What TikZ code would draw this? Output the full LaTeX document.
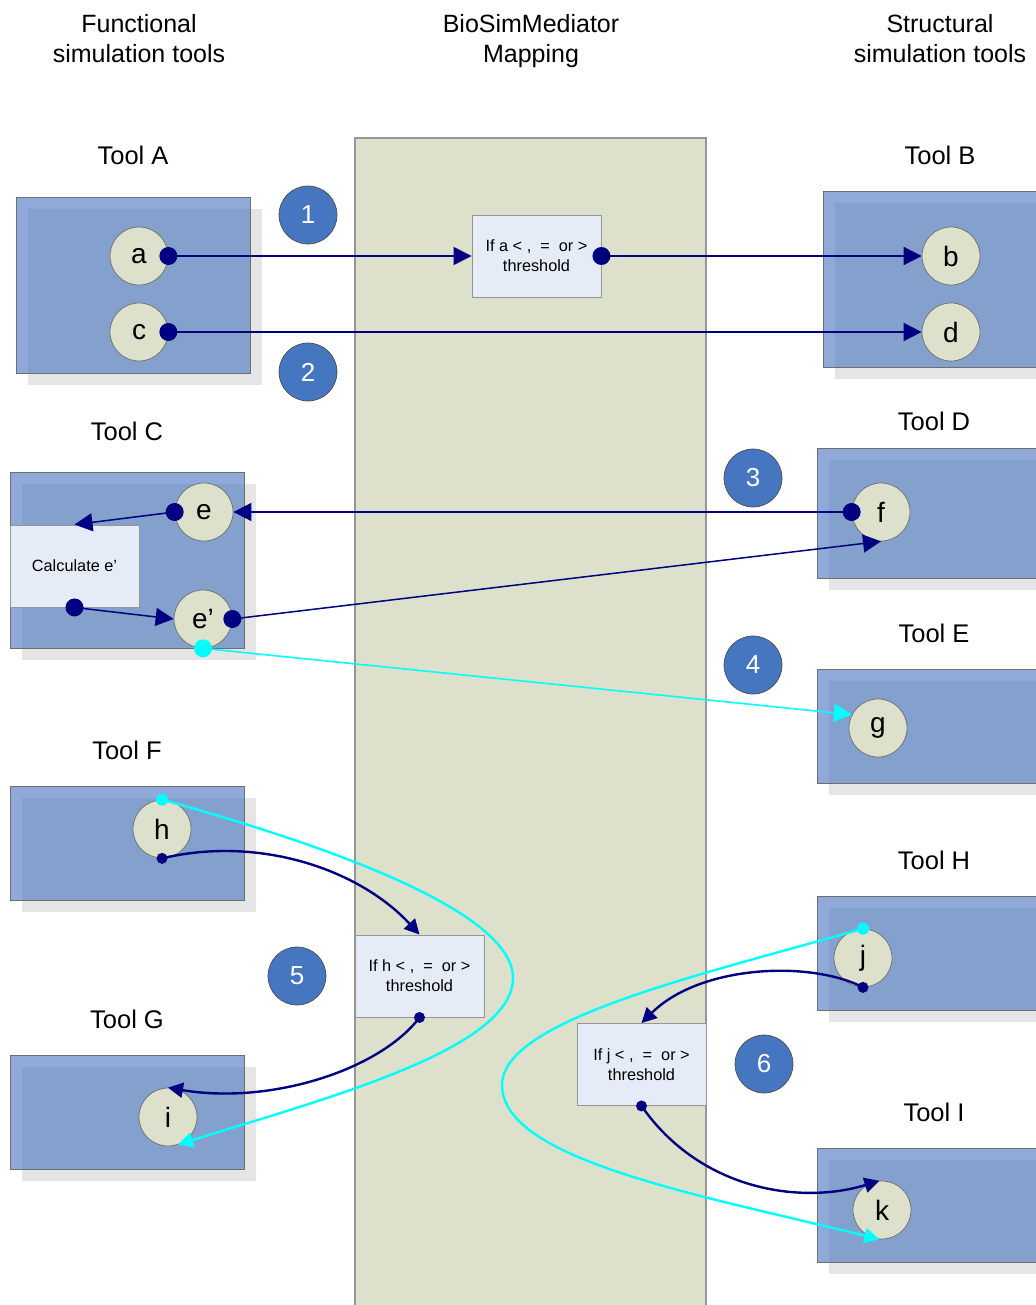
\documentclass[tikz,border=0pt]{standalone}
\usepackage{fontspec}
\setmainfont{Liberation Sans}
\usetikzlibrary{arrows.meta}

\definecolor{mapfill}{RGB}{221,225,203}
\definecolor{mapframe}{RGB}{150,150,150}
\definecolor{toolblue}{RGB}{143,170,216}
\definecolor{tooldark}{RGB}{132,160,204}
\definecolor{shadowgray}{RGB}{229,229,229}
\definecolor{frameg}{RGB}{110,110,110}
\definecolor{varfill}{RGB}{221,224,203}
\definecolor{condfill}{RGB}{230,236,247}
\definecolor{badgeblue}{RGB}{70,118,192}
\definecolor{navyc}{RGB}{0,0,128}
\definecolor{cyanc}{RGB}{0,255,255}

% tool panel: x, y, width, height (with drop shadow and inner shading)
\newcommand\toolpanel[4]{%
  \fill[shadowgray] ({#1+12},{#2+12}) rectangle ({#1+#3+12},{#2+#4+12});
  \fill[toolblue] (#1,#2) rectangle ({#1+#3},{#2+#4});
  \fill[tooldark] ({#1+12},{#2+12}) rectangle ({#1+#3},{#2+#4});
  \draw[frameg, line width=0.9pt] (#1,#2) rectangle ({#1+#3},{#2+#4});
}

\tikzset{
  hlabel/.style={align=center, font=\fontsize{25}{30}\selectfont, inner sep=0pt},
  tlabel/.style={font=\fontsize{25.5}{29}\selectfont, inner sep=0pt},
  var/.style={circle, minimum size=58pt, inner sep=0pt, fill=varfill,
    draw=frameg, line width=0.7pt, font=\fontsize{28}{30}\selectfont},
  badge/.style={circle, minimum size=58pt, inner sep=0pt, fill=badgeblue,
    draw=black!70, line width=0.7pt, text=white, font=\fontsize{26}{28}\selectfont},
  cond/.style={rectangle, minimum width=129pt, minimum height=82pt, inner sep=0pt,
    fill=condfill, draw=mapframe, line width=0.9pt, align=center,
    font=\fontsize{16.3}{20}\selectfont},
  bigdot/.style={circle, fill=navyc, minimum size=18pt, inner sep=0pt},
  smalldot/.style={circle, fill=navyc, minimum size=11pt, inner sep=0pt},
  bigcdot/.style={circle, fill=cyanc, minimum size=18pt, inner sep=0pt},
  smallcdot/.style={circle, fill=cyanc, minimum size=12pt, inner sep=0pt},
  navline/.style={draw=navyc, line width=1.5pt, -{Triangle[length=18pt,width=18pt]}},
  cyanline/.style={draw=cyanc, line width=1.6pt, -{Triangle[length=18pt,width=18pt]}},
  navcurve/.style={draw=navyc, line width=2.4pt, -{Triangle[length=15pt,width=15pt]}},
  cyancurve/.style={draw=cyanc, line width=2.4pt, -{Triangle[length=15pt,width=15pt]}},
}

\begin{document}
\begin{tikzpicture}[x=1pt, y=-1pt]
\useasboundingbox (0,0) rectangle (1035,1305);

% column headings
\node[hlabel] (headF) at (139,39) {Functional\\simulation tools};
\node[hlabel] (headM) at (531,41) {BioSimMediator\\Mapping};
\node[hlabel] (headS) at (940,39) {Structural\\simulation tools};

% mediator mapping column
\fill[mapfill] (355,138) rectangle (706,1320);
\draw[mapframe, line width=1.2pt] (355,1320) -- (355,138) -- (706,138) -- (706,1320);

% tool panels
\toolpanel{16}{197}{234}{176}
\toolpanel{823}{191}{240}{176}
\toolpanel{10}{472}{234}{176}
\toolpanel{817}{448}{240}{130}
\toolpanel{817}{669}{240}{114}
\toolpanel{10}{786}{234}{114}
\toolpanel{10}{1055}{234}{114}
\toolpanel{817}{896}{240}{114}
\toolpanel{817}{1148}{240}{114}

% tool labels
\node[tlabel] (lA) at (133,155) {Tool A};
\node[tlabel] (lB) at (940,155) {Tool B};
\node[tlabel] (lC) at (127,431) {Tool C};
\node[tlabel] (lD) at (934,421) {Tool D};
\node[tlabel] (lE) at (934,633) {Tool E};
\node[tlabel] (lF) at (127,750) {Tool F};
\node[tlabel] (lG) at (127,1019) {Tool G};
\node[tlabel] (lH) at (934,860) {Tool H};
\node[tlabel] (lI) at (934,1112) {Tool I};

% numbered badges
\node[badge] (n1) at (308,215) {1};
\node[badge] (n2) at (308,372) {2};
\node[badge] (n3) at (753,478) {3};
\node[badge] (n4) at (753,665) {4};
\node[badge] (n5) at (297,976) {5};
\node[badge] (n6) at (764,1064) {6};

% condition boxes
\node[cond] (t1) at (536.5,256) {If a < ,\ \ =\ \ or >\\threshold};
\node[cond] (t2) at (419.5,976) {If h < ,\ \ =\ \ or >\\threshold};
\node[cond] (t3) at (641.5,1064.5) {If j < ,\ \ =\ \ or >\\threshold};

% variables
\node[var] (a) at (139,256) {a};
\node[var] (c) at (139,332) {c};
\node[var] (b) at (951,256) {b};
\node[var] (d) at (951,332) {d};
\node[var] (e) at (204,512) {e};
\node[var] (ep) at (203,619) {e’};
\node[var] (f) at (881,512) {f};
\node[var] (g) at (878,728) {g};
\node[var] (h) at (162,829) {h};
\node[var] (i) at (168,1117) {i};
\node[var] (j) at (863,958) {j};
\node[var] (k) at (882,1210) {k};

\node[cond] (calc) at (74.5,566) {Calculate e’};

% connection points
\node[bigdot] (adot) at (a.east) {};
\node[bigdot] (cdot) at (c.east) {};
\node[bigdot] (t1dot) at (t1.east) {};
\node[bigdot] (edot) at (e.west) {};
\node[bigdot] (fdot) at (f.west) {};
\node[bigdot] (calcdot) at (calc.south) {};
\node[bigdot] (epdot) at (ep.east) {};
\node[bigcdot] (epcdot) at (ep.south) {};
\node[smallcdot] (hcdot) at (h.north) {};
\node[smalldot] (hdot) at (h.south) {};
\node[smalldot] (t2dot) at (t2.south) {};
\node[smallcdot] (jcdot) at (j.north) {};
\node[smalldot] (jdot) at (j.south) {};
\node[smalldot] (t3dot) at (t3.south) {};

\coordinate (bend5) at (513,978);
\coordinate (bend6) at (502,1085);

% straight connectors
\draw[navline] (adot.center) -- (t1.west);
\draw[navline] (t1dot.center) -- (b.west);
\draw[navline] (cdot.center) -- (d.west);
\draw[navline] (fdot.center) -- (e.east);
\draw[navline] (edot.center) -- (calc.north);
\draw[navline] (calcdot.center) -- (ep.west);
\draw[navline] (epdot.center) -- (f.south);
\draw[cyanline] (epcdot.center) -- (g.153);

% curved connectors
\draw[navcurve] (hdot.center) .. controls (260,835) and (360,870) .. (t2.north);
\draw[navcurve] (t2dot.center) .. controls (380,1070) and (270,1105) .. (i.north);
\draw[cyancurve] (hcdot.center) .. controls (290,835) and (513,905) .. (bend5)
  .. controls (513,1050) and (320,1100) .. (i.290);
\draw[navcurve] (jdot.center) .. controls (810,960) and (700,965) .. (t3.north);
\draw[navcurve] (t3dot.center) .. controls (700,1190) and (800,1205) .. (k.95);
\draw[cyancurve] (jcdot.center) .. controls (700,975) and (502,1020) .. (bend6)
  .. controls (502,1160) and (700,1195) .. (k.265);
\end{tikzpicture}
\end{document}
